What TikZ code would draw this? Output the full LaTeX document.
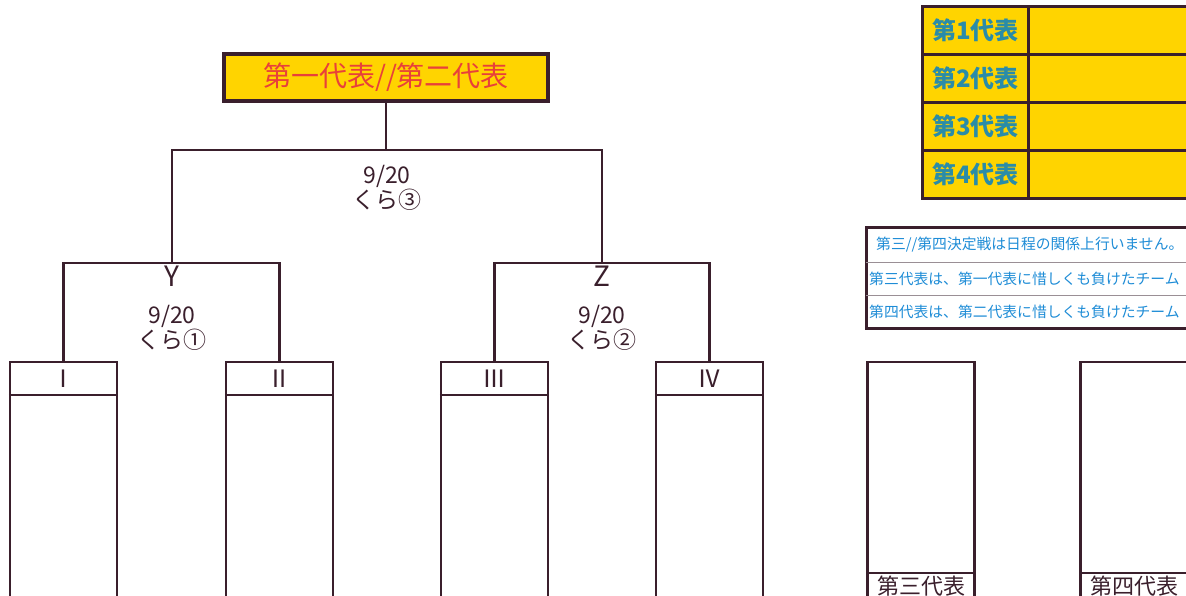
\documentclass[tikz,border=0pt]{standalone}
\usepackage{fontspec}
\newfontfamily\jp{Noto Sans CJK JP}
\definecolor{ink}{HTML}{3A1F2C}
\definecolor{gold}{HTML}{FFD400}
\definecolor{redtxt}{HTML}{E8403A}
\definecolor{tealtxt}{HTML}{2A8CA8}
\definecolor{bluetxt}{HTML}{1E8CD6}
\definecolor{rowline}{HTML}{9A8F95}
\begin{document}
\begin{tikzpicture}[x=1pt,y=-1pt,line width=2.4pt,draw=ink,
  teambox/.style={draw=ink,line width=2.4pt,minimum width=107,minimum height=240,inner sep=0},
  hdr/.style={font=\jp\fontsize{24}{24}\selectfont,text=ink,inner sep=0},
  date/.style={font=\jp\fontsize{23}{25}\selectfont,text=ink,align=center,inner sep=0},
  letter/.style={font=\jp\fontsize{28}{28}\selectfont,text=ink,inner sep=0},
  cell/.style={draw=ink,line width=3pt,fill=gold,inner sep=0,anchor=north west},
  celltxt/.style={font=\jp\bfseries\fontsize{24}{24}\selectfont,text=tealtxt,inner sep=0},
  note/.style={font=\jp\fontsize{14.8}{14.8}\selectfont,text=bluetxt,inner sep=0,anchor=west}]
\useasboundingbox (0,0) rectangle (1186,596);
\clip (0,0) rectangle (1186,596);
% final
\node[draw=ink,line width=4pt,fill=gold,minimum width=324,minimum height=47,inner sep=0] (final) at (386,77.5)
  {\jp\fontsize{28}{28}\selectfont\color{redtxt}第一代表//第二代表};
\coordinate (top) at (386,150);
\coordinate (y) at (172,263);
\coordinate (z) at (602,263);
\draw (final.south) -- (top);
\draw (y) |- (top) -| (z);
\node[date] (d3) at (387,188) {9/20\\くら③};
\node[letter] (ly) at (172,276) {Y};
\node[letter] (lz) at (602,276) {Z};
\node[date] (d1) at (172,328) {9/20\\くら①};
\node[date] (d2) at (602,328) {9/20\\くら②};
% team boxes
\node[teambox] (t1) at (63.5,482) {};
\node[teambox] (t2) at (279.5,482) {};
\node[teambox] (t3) at (494.5,482) {};
\node[teambox] (t4) at (709.5,482) {};
\foreach \t/\n in {t1/Ⅰ,t2/Ⅱ,t3/Ⅲ,t4/Ⅳ}{
  \draw ([yshift=-34pt]\t.north west) -- ([yshift=-34pt]\t.north east);
  \node[hdr] at ([yshift=-18pt]\t.north) {\n};
}
\draw (t1.north) |- (y) -| (t2.north);
\draw (t3.north) |- (z) -| (t4.north);
% third / fourth boxes
\node[teambox] (r3) at (921,482) {};
\node[teambox] (r4) at (1134,482) {};
\draw ([yshift=30pt]r3.south west) -- ([yshift=30pt]r3.south east);
\draw ([yshift=30pt]r4.south west) -- ([yshift=30pt]r4.south east);
\node[font=\jp\fontsize{22}{22}\selectfont,text=ink,inner sep=0] (r3l) at ([yshift=17pt]r3.south) {第三代表};
\node[font=\jp\fontsize{22}{22}\selectfont,text=ink,inner sep=0] (r4l) at ([yshift=17pt]r4.south) {第四代表};
% table
\foreach \i/\yy in {1/5,2/53,3/101,4/149}{
  \node[cell,minimum width=106,minimum height=48] (a\i) at (921,\yy) {};
  \node[cell,minimum width=162,minimum height=48] (b\i) at (1027,\yy) {};
  \node[celltxt] at (a\i.center) {第{\i}代表};
}
% notes
\draw[line width=3pt] (866,228) rectangle (1190,328);
\draw[line width=0.8pt,draw=rowline] (866,262) -- (1190,262);
\draw[line width=0.8pt,draw=rowline] (866,295) -- (1190,295);
\node[note] (n1) at (875,245) {第三//第四決定戦は日程の関係上行いません。};
\node[note] (n2) at (868,279) {第三代表は、第一代表に惜しくも負けたチーム};
\node[note] (n3) at (868,312) {第四代表は、第二代表に惜しくも負けたチーム};
\end{tikzpicture}
\end{document}
